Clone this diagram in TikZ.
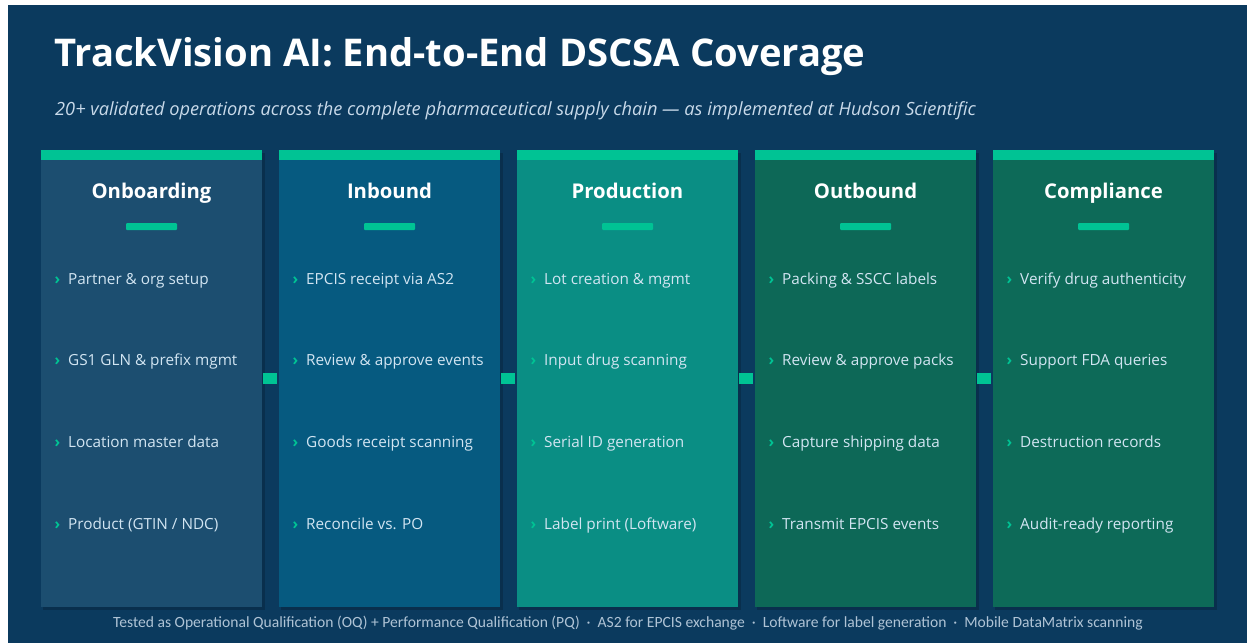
\documentclass[tikz,border=0pt]{standalone}
\usepackage{fontspec}
\setmainfont{Open Sans}
\newfontfamily\footfont{Carlito}
\usetikzlibrary{positioning}
\definecolor{bgblue}{HTML}{0B3A5E}
\definecolor{accent}{HTML}{00C394}
\definecolor{colA}{HTML}{1C4E70}
\definecolor{colB}{HTML}{065A80}
\definecolor{colC}{HTML}{0A8E84}
\definecolor{colD}{HTML}{0D6857}
\definecolor{colE}{HTML}{0D6A58}
\definecolor{itemtxt}{HTML}{D2E5F2}
\definecolor{subtxt}{HTML}{C9DAEA}
\definecolor{foottxt}{HTML}{AFC3D5}
\newcommand{\sepdot}{\hspace{7pt}·\hspace{7pt}}
\tikzset{
  stage/.style={inner sep=0pt, font=\fontsize{20.3}{24}\selectfont\bfseries, text=white, anchor=base},
  item/.style={inner sep=0pt, anchor=base west, font=\fontsize{15.3}{18}\selectfont, text=itemtxt},
  chev/.style={inner sep=0pt, anchor=base, font=\fontsize{15.3}{18}\selectfont\bfseries, text=accent},
  link/.style={fill=accent, minimum width=14pt, minimum height=11pt, inner sep=0pt}
}
\begin{document}
\begin{tikzpicture}[x=1pt,y=-1pt]
  \useasboundingbox (0,0) rectangle (1247,643);
  \fill[white] (0,0) rectangle (1247,643);
  \fill[bgblue] (8,5) rectangle (1247,643);
  % heading
  \node[inner sep=0pt, anchor=base west, text=white, font=\fontsize{38.2}{44}\selectfont\bfseries] (title) at (54,66) {TrackVision AI: End-to-End DSCSA Coverage};
  \node[inner sep=0pt, anchor=base west, text=subtxt, font=\fontsize{18.2}{22}\selectfont\itshape] (sub) at (55,115) {20+ validated operations across the complete pharmaceutical supply chain — as implemented at Hudson Scientific};
  % columns
  \foreach \i/\col/\name/\a/\b/\c/\d in {
    0/colA/Onboarding/Partner \& org setup/GS1 GLN \& prefix mgmt/Location master data/{Product (GTIN / NDC)},
    1/colB/Inbound/EPCIS receipt via AS2/Review \& approve events/Goods receipt scanning/Reconcile vs. PO,
    2/colC/Production/Lot creation \& mgmt/Input drug scanning/Serial ID generation/Label print (Loftware),
    3/colD/Outbound/Packing \& SSCC labels/Review \& approve packs/Capture shipping data/Transmit EPCIS events,
    4/colE/Compliance/Verify drug authenticity/Support FDA queries/Destruction records/Audit-ready reporting}{
    \pgfmathsetmacro{\xl}{41+238*\i}
    \fill[black, opacity=.18] (\xl+2,153) rectangle (\xl+224,610);
    \fill[\col] (\xl,150) rectangle (\xl+221,607);
    \fill[accent] (\xl,150) rectangle (\xl+221,160);
    \node[stage] (head\i) at (\xl+110.5,198) {\name};
    \fill[accent, rounded corners=1pt] (\xl+85,223) rectangle (\xl+136,230);
    \foreach \j/\txt in {0/\a,1/\b,2/\c,3/\d}{
      \pgfmathsetmacro{\yb}{284+81.7*\j}
      \node[chev] (mark\i\j) at (\xl+16.5,\yb) {›};
      \node[item] (op\i\j) at (\xl+27,\yb) {\txt};
    }
  }
  % links between columns
  \foreach \i in {0,...,3}{
    \node[link] (link\i) at (270+238*\i,378.5) {};
  }
  % footer
  \node[inner sep=0pt, anchor=base, text=foottxt, font=\footfont\fontsize{15.6}{18}\selectfont] (foot) at (628,627) {Tested as Operational Qualification (OQ) + Performance Qualification (PQ)\sepdot AS2 for EPCIS exchange\sepdot Loftware for label generation\sepdot Mobile DataMatrix scanning};
\end{tikzpicture}
\end{document}
